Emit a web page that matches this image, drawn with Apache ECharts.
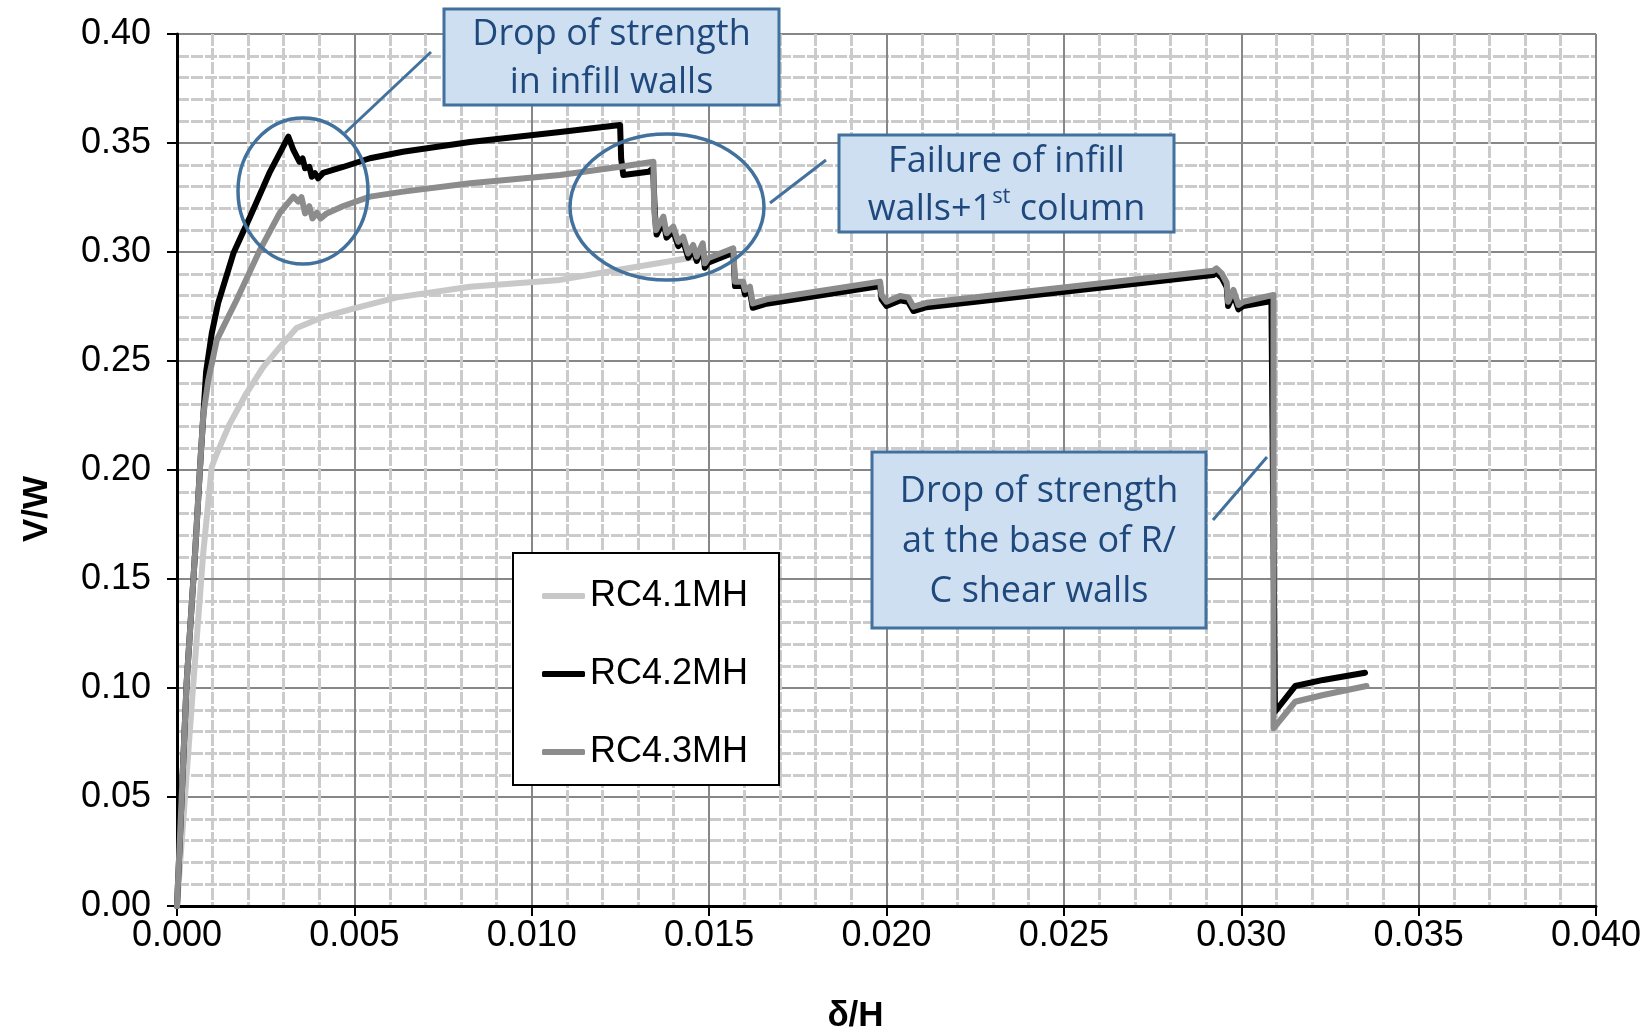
<!DOCTYPE html>
<html>
<head>
<meta charset="utf-8">
<title>V/W - δ/H</title>
<script src="https://cdn.jsdelivr.net/npm/echarts@6/dist/echarts.min.js"></script>
<style>
html,body{margin:0;padding:0;background:#fff;}
#chart{width:1652px;height:1029px;}
</style>
</head>
<body>
<div id="chart"></div>
<script>
// series names
var seriesNames = ['RC4.1MH', 'RC4.2MH', 'RC4.3MH'];

// RC4.1MH
var x41 = [0, 0.00046, 0.00074, 0.00098, 0.00112, 0.00149, 0.00196, 0.00243, 0.00300, 0.00337,
	0.00412, 0.00497, 0.00620, 0.00826, 0.01080, 0.01250, 0.01470];
var y41 = [0, 0.102, 0.162, 0.2015, 0.2074, 0.2213, 0.2353, 0.2472, 0.2583, 0.2651,
	0.2702, 0.2740, 0.2792, 0.2841, 0.2872, 0.2920, 0.2979];

// RC4.2MH
var x42 = [0, 0.00027, 0.00051, 0.00065, 0.00082, 0.00098, 0.00116, 0.00159, 0.00206, 0.00262, 0.00314,
	0.00328, 0.00345, 0.00354, 0.00361, 0.00373, 0.00380, 0.00389, 0.00398, 0.00412,
	0.00468, 0.00544, 0.00637, 0.00826, 0.01080, 0.01249,
	0.01252, 0.01258, 0.01329, 0.01342,
	0.01347, 0.01352, 0.01371, 0.01380, 0.01399, 0.01413, 0.01427, 0.01441, 0.01455, 0.01465, 0.01482, 0.01488, 0.01497, 0.01568,
	0.01573, 0.01596, 0.01601, 0.01615, 0.01623, 0.01662, 0.01982, 0.01986, 0.02000, 0.02038, 0.02061, 0.02076, 0.02113,
	0.02921, 0.02930, 0.02945, 0.02959, 0.02963, 0.02978, 0.02992, 0.03006, 0.03085,
	0.03095, 0.03152, 0.03231, 0.03349];
var y42 = [0, 0.102, 0.162, 0.2015, 0.245, 0.2627, 0.2765, 0.2994, 0.3162, 0.3368, 0.3529,
	0.3468, 0.3414, 0.3429, 0.3384, 0.3391, 0.3345, 0.3361, 0.3338, 0.3363,
	0.3390, 0.3430, 0.3460, 0.3505, 0.3550, 0.3583,
	0.3430, 0.3353, 0.3368, 0.3384,
	0.3180, 0.3080, 0.3142, 0.3066, 0.3096, 0.3027, 0.3050, 0.2974, 0.3012, 0.2959, 0.3020, 0.2928, 0.2951, 0.2997,
	0.2844, 0.2844, 0.2806, 0.2821, 0.2744, 0.2763, 0.2844, 0.2783, 0.2752, 0.2778, 0.2772, 0.2729, 0.2747,
	0.2894, 0.2905, 0.2882, 0.2839, 0.2752, 0.2806, 0.2737, 0.2752, 0.2775,
	0.0891, 0.1009, 0.1037, 0.1070];

// RC4.3MH
var x43 = [0, 0.00027, 0.00051, 0.00065, 0.00074, 0.00088, 0.00112, 0.00168, 0.00234, 0.00290,
	0.00328, 0.00342, 0.00351, 0.00361, 0.00373, 0.00382, 0.00394, 0.00405, 0.00422,
	0.00469, 0.00544, 0.00638, 0.00826, 0.01080, 0.01250, 0.01343,
	0.01345, 0.01350, 0.01371, 0.01380, 0.01399, 0.01413, 0.01427, 0.01441, 0.01455, 0.01465, 0.01482, 0.01488, 0.01497, 0.01568,
	0.01573, 0.01596, 0.01601, 0.01615, 0.01623, 0.01662, 0.01982, 0.01986, 0.02000, 0.02038, 0.02061, 0.02076, 0.02113,
	0.02921, 0.02930, 0.02945, 0.02959, 0.02963, 0.02978, 0.02992, 0.03006, 0.03091,
	0.03091, 0.03152, 0.03231, 0.03353];
var y43 = [0, 0.102, 0.162, 0.2015, 0.225, 0.241, 0.2596, 0.278, 0.301, 0.318,
	0.3254, 0.3231, 0.3251, 0.3177, 0.3210, 0.3154, 0.3180, 0.3154, 0.3177,
	0.3211, 0.3254, 0.3277, 0.3315, 0.3353, 0.3391, 0.3414,
	0.3200, 0.3100, 0.3162, 0.3086, 0.3116, 0.3047, 0.3070, 0.2994, 0.3032, 0.2979, 0.3040, 0.2948, 0.2971, 0.3017,
	0.2864, 0.2864, 0.2826, 0.2841, 0.2764, 0.2783, 0.2864, 0.2803, 0.2772, 0.2798, 0.2792, 0.2749, 0.2767,
	0.2914, 0.2925, 0.2902, 0.2859, 0.2772, 0.2826, 0.2757, 0.2772, 0.2803,
	0.0815, 0.0937, 0.0968, 0.1009];

var lineColors = ['#c8c8c8', '#000000', '#8c8c8c'];

function pairs(xs, ys){
	var out = [];
	for(var i=0;i<xs.length;i++){
		out.push([xs[i], ys[i]]);
	}
	return out;
}

var labelFont = 'Liberation Sans';
var noteFont = 'Open Sans';
var noteColor = '#1f497d';
var boxFill = '#cfdff2';
var boxStroke = '#41719c';

// annotation boxes (pixel layout)
function noteBox(x, y, w, h, text, lh, rich){
	return {
		type: 'group',
		z: 100,
		children: [{
			type: 'rect',
			z: 100,
			shape: {x: x, y: y, width: w, height: h},
			style: {fill: boxFill, stroke: boxStroke, lineWidth: 3}
		}, {
			type: 'text',
			z: 101,
			x: x + w/2,
			y: y + h/2 + 2,
			style: {
				text: text,
				fill: noteColor,
				fontFamily: noteFont,
				fontSize: 36,
				lineHeight: lh,
				align: 'center',
				verticalAlign: 'middle',
				rich: rich || {}
			}
		}]
	};
}
function noteLine(x1, y1, x2, y2){
	return {type: 'line', z: 100, shape: {x1: x1, y1: y1, x2: x2, y2: y2},
		style: {stroke: boxStroke, lineWidth: 3}};
}
function noteEllipse(cx, cy, rx, ry){
	return {type: 'ellipse', z: 100, shape: {cx: cx, cy: cy, rx: rx, ry: ry},
		style: {fill: null, stroke: boxStroke, lineWidth: 3.5}};
}

var chart = echarts.init(document.getElementById('chart'));
var series = [];
var xsAll = [x41, x42, x43], ysAll = [y41, y42, y43];
for(var s=0;s<3;s++){
	series.push({
		name: seriesNames[s],
		type: 'line',
		data: pairs(xsAll[s], ysAll[s]),
		showSymbol: false,
		symbol: 'none',
		smooth: false,
		color: lineColors[s],
		itemStyle: {color: lineColors[s]},
		lineStyle: {color: lineColors[s], width: 6, cap: 'round', join: 'round'},
		animation: false
	});
}

var option = {
	backgroundColor: '#fff',
	animation: false,
	grid: {left: 177, right: 56, top: 34, bottom: 123, containLabel: false, outerBoundsMode: 'none'},
	legend: {
		data: seriesNames,
		orient: 'vertical',
		left: 513,
		top: 553,
		backgroundColor: '#fff',
		borderColor: '#000',
		borderWidth: 2,
		padding: [23, 31, 13, 29],
		itemGap: 38,
		itemWidth: 43,
		itemHeight: 6,
		icon: 'roundRect',
		textStyle: {fontFamily: labelFont, fontSize: 36, color: '#000', lineHeight: 40},
		z: 50
	},
	xAxis: {
		type: 'value',
		min: 0,
		max: 0.04,
		interval: 0.005,
		name: 'δ/H',
		nameLocation: 'middle',
		nameGap: 93,
		nameTextStyle: {fontFamily: labelFont, fontSize: 35, fontWeight: 'bold', color: '#000', padding: [0, 62, 0, 0]},
		axisLine: {onZero: false, lineStyle: {color: '#000', width: 3}},
		axisTick: {show: true, inside: false, length: 10, lineStyle: {color: '#000', width: 2}},
		axisLabel: {margin: 12, fontFamily: labelFont, fontSize: 36, color: '#000',
			formatter: function(v){ return v.toFixed(3); }},
		splitLine: {show: true, lineStyle: {color: '#878787', width: 2}},
		minorTick: {show: false, splitNumber: 5},
		minorSplitLine: {show: true, lineStyle: {color: '#cbcbcb', width: 3, type: [12, 2]}}
	},
	yAxis: {
		type: 'value',
		min: 0,
		max: 0.4,
		interval: 0.05,
		name: 'V/W',
		nameLocation: 'middle',
		nameRotate: 90,
		nameGap: 122,
		nameTextStyle: {fontFamily: labelFont, fontSize: 35, fontWeight: 'bold', color: '#000', padding: [0, 78, 0, 0]},
		axisLine: {onZero: false, lineStyle: {color: '#000', width: 3}},
		axisTick: {show: true, inside: false, length: 10, lineStyle: {color: '#000', width: 2}},
		axisLabel: {margin: 26, fontFamily: labelFont, fontSize: 36, color: '#000',
			formatter: function(v){ return v.toFixed(2); }},
		splitLine: {show: true, lineStyle: {color: '#878787', width: 2}},
		minorTick: {show: false, splitNumber: 5},
		minorSplitLine: {show: true, lineStyle: {color: '#cbcbcb', width: 3, type: [12, 2]}}
	},
	series: series,
	graphic: [
		noteEllipse(303, 191, 65, 73),
		noteEllipse(667, 207, 97, 73),
		noteLine(431, 52, 345, 133),
		noteLine(826, 160, 770, 203),
		noteLine(1267, 457, 1213, 520),
		noteBox(444, 9, 335, 96, 'Drop of strength\nin infill walls', 48),
		noteBox(839, 135, 335, 97, 'Failure of infill\nwalls+1{sup|st} column', 48,
			{sup: {fontFamily: noteFont, fontSize: 22, fill: noteColor, verticalAlign: 'top', lineHeight: 30}}),
		noteBox(872, 452, 334, 176, 'Drop of strength\nat the base of R/\nC shear walls', 50)
	]
};
chart.setOption(option);
</script>
</body>
</html>
